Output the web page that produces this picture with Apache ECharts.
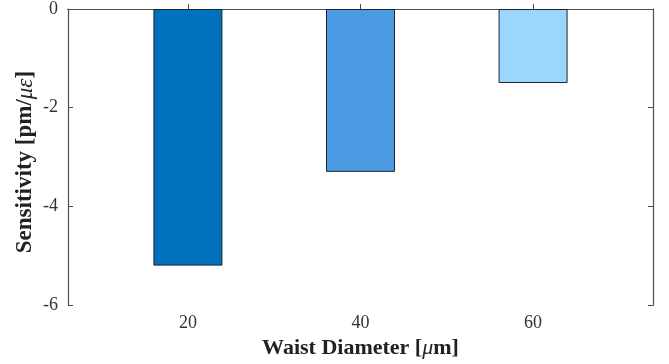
<!DOCTYPE html>
<html><head><meta charset="utf-8">
<script src="https://cdn.jsdelivr.net/npm/echarts@6/dist/echarts.min.js"></script>
<style>html,body{margin:0;padding:0;background:#fff}#c{width:669px;height:364px}</style>
</head><body><div id="c"></div>
<script>
const categories = [20, 40, 60];
const values = [-5.2, -3.3, -1.5];
const colors = ['#0072BD', '#4A9BE1', '#9BD6FD'];
const yTicks = [-6, -4, -2, 0];

const font = 'Liberation Serif';
const axisCol = '#4d4d4d';
const chart = echarts.init(document.getElementById('c'), null, {renderer: 'canvas'});
const data = categories.map((c, i) => ({value: [c, values[i]], itemStyle: {color: colors[i]}}));

chart.setOption({
  animation: false,
  grid: {left: 68, right: 16, top: 9, bottom: 58, containLabel: false},
  xAxis: [{
    type: 'value', min: 6.1, max: 73.9, position: 'bottom',
    splitLine: {show: false},
    axisLine: {lineStyle: {color: axisCol, width: 1.2}},
    axisTick: {inside: true, length: 5, customValues: categories, lineStyle: {color: axisCol}},
    axisLabel: {customValues: categories, fontFamily: font, fontSize: 18, color: '#333', margin: 9},
    name: '{b|Waist Diameter [}{i|μ}{b|m]}', nameLocation: 'middle', nameGap: 25,
    nameTextStyle: {rich: {
      b: {fontFamily: font, fontSize: 22, fontWeight: 'bold', color: '#222'},
      i: {fontFamily: font, fontSize: 22, fontStyle: 'italic', color: '#222'}
    }}
  }, {
    type: 'value', min: 6.1, max: 73.9, position: 'top',
    splitLine: {show: false},
    axisLine: {lineStyle: {color: axisCol, width: 1.2}},
    axisTick: {inside: true, length: 5, customValues: categories, lineStyle: {color: axisCol}},
    axisLabel: {show: false}
  }],
  yAxis: [{
    type: 'value', min: -6, max: 0, interval: 2, position: 'left',
    splitLine: {show: false},
    axisLine: {show: true, lineStyle: {color: axisCol, width: 1.2}},
    axisTick: {show: true, inside: true, length: 5, lineStyle: {color: axisCol}},
    axisLabel: {fontFamily: font, fontSize: 18, color: '#333', margin: 10},
    name: '{b|Sensitivity [pm/}{i|με}{b|]}', nameLocation: 'middle', nameGap: 31, nameMoveOverlap: false,
    nameTextStyle: {padding: [0, 10, 0, 0], rich: {
      b: {fontFamily: font, fontSize: 23, fontWeight: 'bold', color: '#222'},
      i: {fontFamily: font, fontSize: 23, fontStyle: 'italic', color: '#222'}
    }}
  }, {
    type: 'value', min: -6, max: 0, interval: 2, position: 'right',
    splitLine: {show: false},
    axisLine: {show: true, lineStyle: {color: axisCol, width: 1.2}},
    axisTick: {show: true, inside: true, length: 5, lineStyle: {color: axisCol}},
    axisLabel: {show: false}
  }],
  series: [{
    type: 'bar', xAxisIndex: 0, yAxisIndex: 0,
    barWidth: 69,
    data: data,
    itemStyle: {borderColor: '#1c2430', borderWidth: 1}
  }]
});
</script></body></html>
